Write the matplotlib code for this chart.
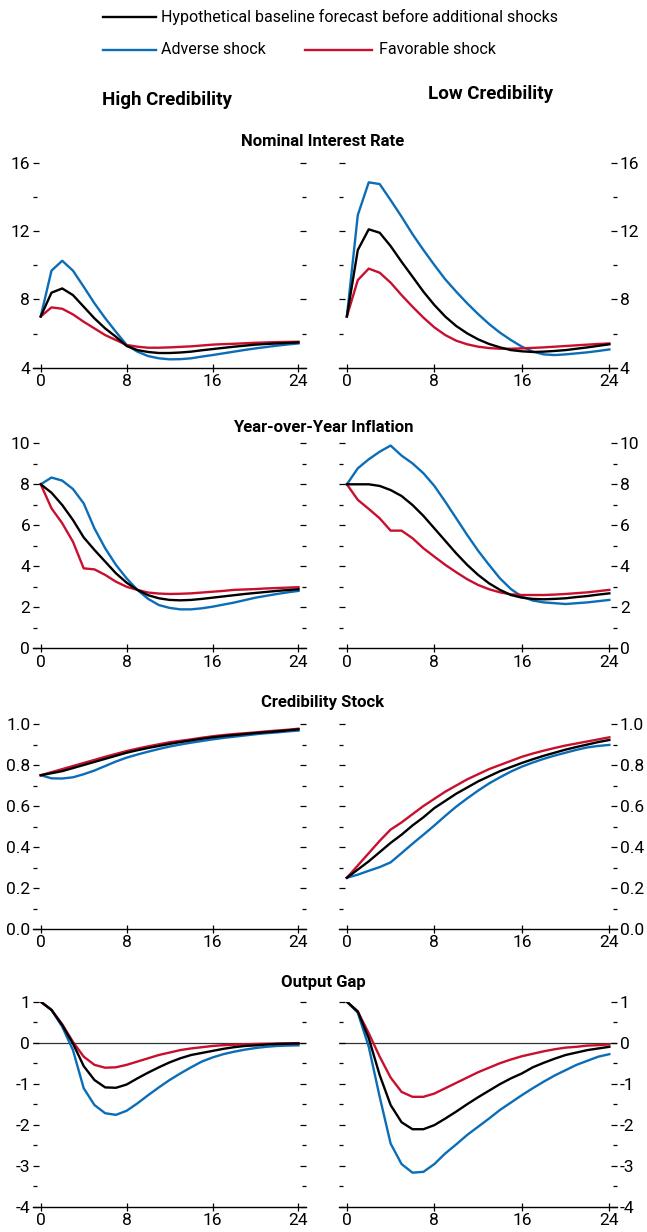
import matplotlib
matplotlib.use("Agg")
import matplotlib.pyplot as plt
from matplotlib.ticker import MultipleLocator, FormatStrFormatter
from matplotlib.lines import Line2D

plt.rcParams['font.family'] = ['Roboto', 'DejaVu Sans']
plt.rcParams['axes.unicode_minus'] = False

quarters = list(range(25))

# ---- Nominal interest rate ----
hc_rate_adverse = [7.0, 9.68, 10.26, 9.68, 8.74, 7.77, 6.9, 6.1, 5.33, 4.94, 4.68, 4.55, 4.49, 4.5, 4.55, 4.65, 4.74, 4.84, 4.94, 5.04, 5.13, 5.21, 5.29, 5.36, 5.42]
hc_rate_base = [7.0, 8.39, 8.64, 8.25, 7.57, 6.89, 6.3, 5.81, 5.27, 5.03, 4.92, 4.86, 4.86, 4.89, 4.94, 5.02, 5.09, 5.16, 5.23, 5.29, 5.35, 5.39, 5.42, 5.45, 5.48]
hc_rate_favor = [7.0, 7.53, 7.45, 7.12, 6.69, 6.3, 5.91, 5.62, 5.33, 5.23, 5.17, 5.17, 5.19, 5.22, 5.25, 5.3, 5.35, 5.38, 5.4, 5.43, 5.46, 5.48, 5.5, 5.51, 5.52]
lc_rate_adverse = [7.0, 12.94, 14.85, 14.75, 13.81, 12.84, 11.82, 10.89, 10.01, 9.17, 8.45, 7.77, 7.14, 6.56, 6.05, 5.62, 5.23, 4.94, 4.78, 4.74, 4.78, 4.84, 4.9, 4.98, 5.07]
lc_rate_base = [7.0, 10.89, 12.1, 11.9, 11.12, 10.2, 9.33, 8.45, 7.67, 6.99, 6.44, 6.01, 5.66, 5.39, 5.19, 5.03, 4.96, 4.92, 4.94, 4.98, 5.03, 5.11, 5.19, 5.28, 5.37]
lc_rate_favor = [7.0, 9.13, 9.8, 9.56, 8.98, 8.25, 7.57, 6.93, 6.36, 5.91, 5.58, 5.37, 5.23, 5.15, 5.11, 5.11, 5.13, 5.16, 5.19, 5.23, 5.27, 5.31, 5.35, 5.39, 5.42]

# ---- Year-over-year inflation ----
hc_infl_adverse = [8.0, 8.33, 8.18, 7.77, 7.07, 5.85, 4.88, 4.07, 3.41, 2.85, 2.41, 2.11, 1.97, 1.9, 1.9, 1.95, 2.03, 2.13, 2.23, 2.35, 2.47, 2.56, 2.65, 2.73, 2.8]
hc_infl_base = [8.0, 7.59, 6.99, 6.26, 5.41, 4.8, 4.23, 3.66, 3.2, 2.85, 2.59, 2.44, 2.36, 2.34, 2.36, 2.41, 2.47, 2.53, 2.59, 2.65, 2.7, 2.75, 2.8, 2.84, 2.88]
hc_infl_favor = [8.0, 6.83, 6.1, 5.2, 3.9, 3.85, 3.58, 3.25, 3.0, 2.85, 2.72, 2.67, 2.65, 2.66, 2.68, 2.72, 2.76, 2.8, 2.85, 2.87, 2.89, 2.92, 2.94, 2.96, 2.98]
lc_infl_adverse = [8.0, 8.78, 9.22, 9.59, 9.89, 9.4, 9.02, 8.54, 7.92, 7.15, 6.34, 5.53, 4.76, 4.07, 3.41, 2.89, 2.52, 2.33, 2.24, 2.2, 2.16, 2.2, 2.24, 2.3, 2.36]
lc_infl_base = [8.0, 8.0, 8.0, 7.92, 7.72, 7.43, 6.99, 6.46, 5.85, 5.24, 4.63, 4.07, 3.58, 3.17, 2.85, 2.6, 2.47, 2.41, 2.39, 2.41, 2.44, 2.5, 2.55, 2.62, 2.68]
lc_infl_favor = [8.0, 7.24, 6.8, 6.34, 5.74, 5.74, 5.37, 4.88, 4.47, 4.07, 3.71, 3.37, 3.09, 2.88, 2.73, 2.63, 2.6, 2.6, 2.6, 2.62, 2.65, 2.69, 2.73, 2.79, 2.85]

# ---- Credibility stock ----
hc_cred_adverse = [0.75, 0.735, 0.734, 0.74, 0.755, 0.773, 0.795, 0.817, 0.836, 0.851, 0.865, 0.878, 0.89, 0.9, 0.909, 0.917, 0.925, 0.932, 0.938, 0.944, 0.95, 0.955, 0.959, 0.964, 0.968]
hc_cred_base = [0.75, 0.76, 0.77, 0.785, 0.8, 0.815, 0.83, 0.845, 0.86, 0.872, 0.883, 0.893, 0.903, 0.912, 0.92, 0.928, 0.935, 0.941, 0.946, 0.951, 0.956, 0.96, 0.964, 0.969, 0.974]
hc_cred_favor = [0.75, 0.765, 0.78, 0.795, 0.81, 0.825, 0.84, 0.854, 0.868, 0.88, 0.891, 0.901, 0.911, 0.918, 0.925, 0.933, 0.94, 0.946, 0.951, 0.955, 0.959, 0.964, 0.968, 0.972, 0.977]
lc_cred_adverse = [0.25, 0.265, 0.284, 0.302, 0.325, 0.37, 0.416, 0.46, 0.505, 0.552, 0.597, 0.637, 0.675, 0.71, 0.74, 0.768, 0.792, 0.812, 0.83, 0.846, 0.86, 0.874, 0.886, 0.893, 0.898]
lc_cred_base = [0.25, 0.29, 0.33, 0.375, 0.42, 0.46, 0.505, 0.545, 0.59, 0.625, 0.66, 0.69, 0.72, 0.745, 0.77, 0.79, 0.81, 0.828, 0.845, 0.86, 0.875, 0.888, 0.9, 0.912, 0.922]
lc_cred_favor = [0.25, 0.31, 0.37, 0.43, 0.485, 0.52, 0.56, 0.6, 0.635, 0.67, 0.7, 0.73, 0.755, 0.78, 0.8, 0.82, 0.84, 0.856, 0.87, 0.883, 0.895, 0.905, 0.915, 0.925, 0.935]

# ---- Output gap ----
hc_gap_adverse = [1.0, 0.8, 0.39, -0.18, -1.11, -1.52, -1.72, -1.76, -1.66, -1.48, -1.28, -1.09, -0.91, -0.75, -0.6, -0.46, -0.36, -0.28, -0.22, -0.17, -0.13, -0.1, -0.08, -0.07, -0.065]
hc_gap_base = [1.0, 0.8, 0.43, -0.02, -0.57, -0.91, -1.09, -1.1, -1.02, -0.87, -0.73, -0.6, -0.48, -0.38, -0.3, -0.25, -0.2, -0.15, -0.11, -0.08, -0.065, -0.045, -0.03, -0.025, -0.02]
hc_gap_favor = [1.0, 0.8, 0.45, 0.02, -0.34, -0.54, -0.61, -0.6, -0.54, -0.46, -0.38, -0.3, -0.24, -0.18, -0.14, -0.11, -0.08, -0.06, -0.05, -0.04, -0.03, -0.025, -0.02, -0.015, -0.01]
lc_gap_adverse = [1.0, 0.73, -0.1, -1.32, -2.46, -2.96, -3.17, -3.15, -2.96, -2.7, -2.48, -2.25, -2.05, -1.85, -1.64, -1.46, -1.28, -1.11, -0.95, -0.8, -0.67, -0.54, -0.44, -0.34, -0.28]
lc_gap_base = [1.0, 0.76, 0.11, -0.79, -1.52, -1.94, -2.11, -2.11, -2.01, -1.85, -1.68, -1.5, -1.33, -1.17, -1.01, -0.87, -0.75, -0.6, -0.49, -0.39, -0.3, -0.24, -0.18, -0.14, -0.1]
lc_gap_favor = [1.0, 0.76, 0.23, -0.34, -0.85, -1.2, -1.32, -1.32, -1.24, -1.11, -0.98, -0.85, -0.72, -0.61, -0.5, -0.41, -0.33, -0.27, -0.21, -0.16, -0.12, -0.1, -0.07, -0.06, -0.04]

panel_titles = ["Nominal Interest Rate", "Year-over-Year Inflation", "Credibility Stock", "Output Gap"]
column_titles = ["High Credibility", "Low Credibility"]
legend_labels = ["Hypothetical baseline forecast before additional shocks", "Adverse shock", "Favorable shock"]
x_ticks = [0, 8, 16, 24]

C_BASE = "#000000"
C_ADV = "#0b6db7"
C_FAV = "#c8102e"

W, H = 647, 1232
fig = plt.figure(figsize=(W / 100, H / 100), dpi=100)

def fx(px):
    return px / W

def fy(py):
    return 1 - py / H

rows = [
    dict(ylim=(4, 16), major=4, minor=2, fmt="%d",
         hc=(hc_rate_base, hc_rate_adverse, hc_rate_favor),
         lc=(lc_rate_base, lc_rate_adverse, lc_rate_favor), top=162.7, zero=False),
    dict(ylim=(0, 10), major=2, minor=1, fmt="%d",
         hc=(hc_infl_base, hc_infl_adverse, hc_infl_favor),
         lc=(lc_infl_base, lc_infl_adverse, lc_infl_favor), top=443.3, zero=False),
    dict(ylim=(0, 1), major=0.2, minor=0.1, fmt="%.1f",
         hc=(hc_cred_base, hc_cred_adverse, hc_cred_favor),
         lc=(lc_cred_base, lc_cred_adverse, lc_cred_favor), top=724.0, zero=False),
    dict(ylim=(-4, 1), major=1, minor=0.5, fmt="%d",
         hc=(hc_gap_base, hc_gap_adverse, hc_gap_favor),
         lc=(lc_gap_base, lc_gap_adverse, lc_gap_favor), top=1001.7, zero=True),
]
panel_h = 205.0
cols = [(33.0, 273.0), (339.0, 278.0)]
title_y = [142, 427, 702, 982]

for r, row in enumerate(rows):
    for c, key in enumerate(["hc", "lc"]):
        x0, w = cols[c]
        ax = fig.add_axes([fx(x0), fy(row["top"] + panel_h), w / W, panel_h / H])
        base, adv, fav = row[key]
        if row["zero"]:
            ax.axhline(0, color="#333333", lw=0.9, zorder=1)
        ax.plot(quarters, adv, color=C_ADV, lw=1.7, zorder=3)
        ax.plot(quarters, fav, color=C_FAV, lw=1.7, zorder=3)
        ax.plot(quarters, base, color=C_BASE, lw=1.7, zorder=4)
        ax.set_xlim(-0.72, 24.7)
        ax.set_ylim(*row["ylim"])
        ax.set_xticks(x_ticks)
        ax.yaxis.set_major_locator(MultipleLocator(row["major"]))
        ax.yaxis.set_minor_locator(MultipleLocator(row["minor"]))
        ax.yaxis.set_major_formatter(FormatStrFormatter(row["fmt"]))
        for s in ["top", "left", "right"]:
            ax.spines[s].set_visible(False)
        ax.spines["bottom"].set_linewidth(1.0)
        ax.tick_params(axis="x", direction="inout", length=6, width=0.9, labelsize=12.5, pad=1.5)
        ax.tick_params(axis="y", which="major", direction="in", length=4.5, width=0.9,
                       left=True, right=True, labelsize=12.5, pad=2,
                       labelleft=(c == 0), labelright=(c == 1))
        ax.tick_params(axis="y", which="minor", direction="in", length=3, width=0.9,
                       left=True, right=True)
        ax.set_facecolor("none")
    fig.text(fx(323), fy(title_y[r]), panel_titles[r], ha="center", va="center",
             fontsize=12, fontweight="bold")

fig.text(fx(167), fy(100), column_titles[0], ha="center", va="center", fontsize=13.5, fontweight="bold")
fig.text(fx(490), fy(94), column_titles[1], ha="center", va="center", fontsize=13.5, fontweight="bold")

# legend drawn in figure coordinates
leg_items = [((103, 156), 17, C_BASE, 161, legend_labels[0]),
             ((103, 156), 50, C_ADV, 161, legend_labels[1]),
             ((305, 372), 50, C_FAV, 379, legend_labels[2])]
for (xa, xb), yy, col, tx, lab in leg_items:
    fig.add_artist(Line2D([fx(xa), fx(xb)], [fy(yy), fy(yy)], color=col, lw=1.7,
                          transform=fig.transFigure))
    fig.text(fx(tx), fy(yy), lab, ha="left", va="center", fontsize=11.5)

fig.savefig("out.png", dpi=100)
